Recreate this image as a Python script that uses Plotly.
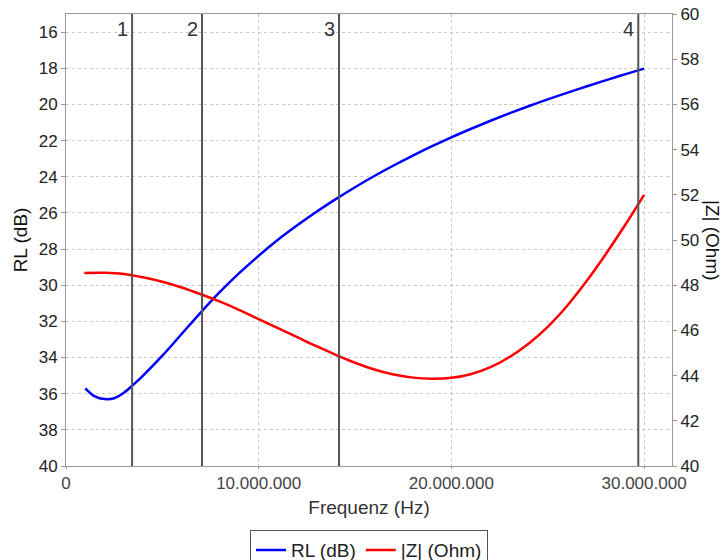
import plotly.graph_objects as go

# RL (dB) curve, left axis (reversed)
rl_freq_mhz = [1.0, 1.5, 2.0, 2.5, 3.0, 3.5, 4.0, 5.0, 6.0, 7.0, 8.0, 9.0, 10.0, 11.0, 12.0,
               13.0, 14.0, 15.0, 16.0, 17.0, 18.0, 19.0, 20.0, 21.0, 22.0, 23.0, 24.0, 25.0,
               26.0, 27.0, 28.0, 29.0, 30.0]
rl_db = [35.7, 36.15, 36.3, 36.25, 35.95, 35.5, 35.0, 33.9, 32.7, 31.5, 30.36, 29.32, 28.37,
         27.49, 26.69, 25.94, 25.24, 24.58, 23.96, 23.38, 22.83, 22.31, 21.82, 21.36, 20.92,
         20.5, 20.1, 19.72, 19.36, 19.01, 18.67, 18.34, 18.02]

# |Z| (Ohm) curve, right axis
z_freq_mhz = [0.95, 2.0, 3.0, 4.0, 5.0, 6.0, 7.0, 8.0, 9.0, 10.0, 11.0, 12.0, 13.0, 14.0,
              15.0, 16.0, 17.0, 18.0, 19.0, 20.0, 21.0, 22.0, 23.0, 24.0, 25.0, 26.0, 27.0,
              28.0, 29.0, 30.0]
z_ohm = [48.54, 48.55, 48.5, 48.35, 48.15, 47.9, 47.6, 47.27, 46.9, 46.5, 46.1, 45.7, 45.3,
         44.92, 44.57, 44.27, 44.05, 43.91, 43.86, 43.9, 44.06, 44.36, 44.81, 45.41, 46.16,
         47.08, 48.16, 49.36, 50.64, 52.0]

# Marker lines
marker_labels = ["1", "2", "3", "4"]
marker_freq_mhz = [3.43, 7.06, 14.17, 29.7]

x_ticks = [0, 10_000_000, 20_000_000, 30_000_000]
left_ticks = list(range(16, 41, 2))
right_ticks = list(range(40, 61, 2))

FONT = "Liberation Sans, Arial, sans-serif"

fig = go.Figure()
fig.add_trace(go.Scatter(
    x=[f * 1e6 for f in rl_freq_mhz], y=rl_db, mode="lines", name="RL (dB)",
    line=dict(color="#0000ff", width=2.5, shape="spline", smoothing=1.0), yaxis="y"))
fig.add_trace(go.Scatter(
    x=[f * 1e6 for f in z_freq_mhz], y=z_ohm, mode="lines", name="|Z| (Ohm)",
    line=dict(color="#ff0000", width=2.5, shape="spline", smoothing=1.0), yaxis="y2"))

for lab, f in zip(marker_labels, marker_freq_mhz):
    fig.add_shape(type="line", xref="x", yref="paper", x0=f * 1e6, x1=f * 1e6, y0=0, y1=1,
                  line=dict(color="#555555", width=2))
    fig.add_annotation(x=f * 1e6, y=1, xref="x", yref="paper", text=lab, showarrow=False,
                       xanchor="right", yanchor="top", xshift=-2, yshift=-2,
                       font=dict(size=20, color="#333333", family=FONT))

fig.add_annotation(x=1, y=0.5, xref="paper", yref="paper", text="|Z| (Ohm)", showarrow=False,
                   textangle=90, xanchor="center", yanchor="middle", xshift=41,
                   font=dict(size=19, color="#111111", family=FONT))

grid = dict(showgrid=True, gridcolor="#c8c8c8", griddash="dot", gridwidth=1)

fig.update_layout(
    width=728, height=560,
    margin=dict(l=66, r=56, t=14, b=94, autoexpand=False),
    paper_bgcolor="white", plot_bgcolor="white",
    separators=",.",
    font=dict(family=FONT, size=16, color="#222222"),
    xaxis=dict(range=[0, 31.45e6], tickvals=x_ticks, tickformat=",d", automargin=False,
               title=dict(text="Frequenz (Hz)", font=dict(size=19, color="#333333"), standoff=8),
               tickfont=dict(size=17, color="#444444"),
               showline=True, linecolor="#999999", linewidth=1, mirror=True,
               ticks="outside", ticklen=2, tickcolor="#999999", zeroline=False, **grid),
    yaxis=dict(range=[40, 15], tickvals=left_ticks, automargin=False,
               title=dict(text="RL (dB)", font=dict(size=19, color="#111111"), standoff=6),
               tickfont=dict(size=17, color="#222222"),
               showline=True, linecolor="#999999", linewidth=1, mirror=True,
               ticks="outside", ticklen=4, tickcolor="#999999", zeroline=False, **grid),
    yaxis2=dict(range=[40, 60], tickvals=right_ticks, overlaying="y", side="right",
                automargin=False,
                tickfont=dict(size=17, color="#222222"),
                showline=True, linecolor="#999999", linewidth=1,
                ticks="outside", ticklen=4, tickcolor="#999999", zeroline=False, showgrid=False),
    legend=dict(orientation="h", x=0.5, xanchor="center", y=-0.142, yanchor="top",
                bordercolor="#555555", borderwidth=1, font=dict(size=19, color="#222222"),
                itemwidth=30, tracegroupgap=0),
    showlegend=True,
)

fig.write_html("out.html")
